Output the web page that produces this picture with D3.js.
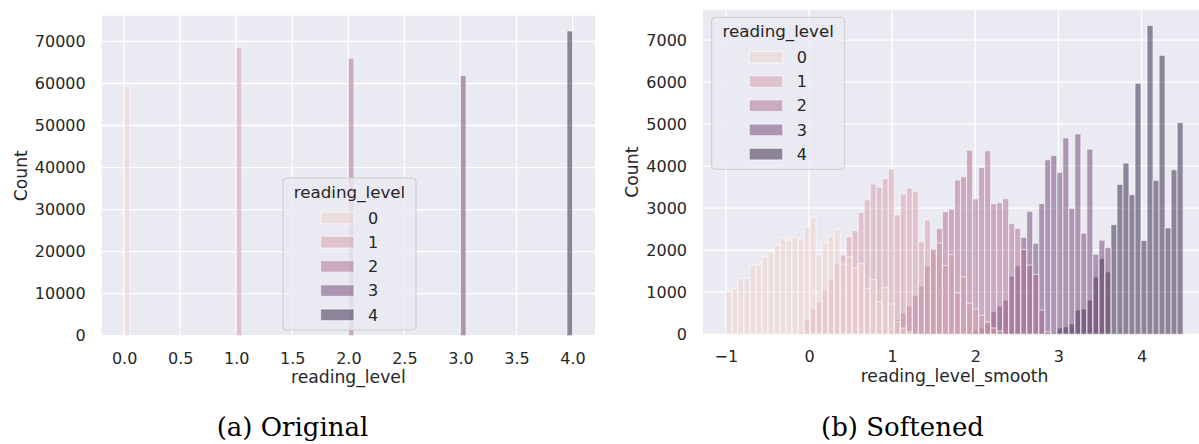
<!DOCTYPE html>
<html>
<head>
<meta charset="utf-8">
<script src="https://cdn.jsdelivr.net/npm/d3@7"></script>
<style>
  body { margin: 0; background: #fff; }
  text { font-family: "DejaVu Sans", sans-serif; fill: #262626; }
  .tick text { font-size: 16px; }
  .axisLabel { font-size: 17.2px; }
  .legTitle { font-size: 16.7px; }
  .legText { font-size: 16px; }
  .caption { font-family: "DejaVu Serif", serif; font-size: 26px; fill: #000; }
</style>
</head>
<body>
<div id="chart"></div>
<script>
// (a) original: one count per reading level
var levels = [0, 1, 2, 3, 4];
var levelCounts = [59300, 68600, 66000, 61900, 72500];
var levelTicks = [0, 0.5, 1, 1.5, 2, 2.5, 3, 3.5, 4];
var countTicksA = [0, 10000, 20000, 30000, 40000, 50000, 60000, 70000];

// (b) softened: 76 bins between -1 and 4.5, each level starts at a bin index
var smoothRange = [-1, 4.5];
var smoothBinCount = 76;
var softStart = [0, 12, 27, 40, 54];
var soft0 = [1030, 1080, 1330, 1330, 1645, 1650, 1840, 1975, 2115, 2290,
             2235, 2300, 2265, 2545, 2785, 1900, 2160, 2330, 2490, 1670,
             1843, 1582, 1685, 1092, 1300, 775, 1107, 720, 300, 150, 60];
var soft1 = [55, 364, 600, 775, 1060, 1305, 1685, 1890, 2318, 2468,
             2903, 3204, 3575, 3500, 3700, 3930, 2840, 3340, 3480, 3400,
             2200, 2720, 2040, 2175, 1637, 1898, 990, 1370, 740, 600,
             450, 300, 150, 80];
var soft2 = [50, 356, 514, 672, 918, 1147, 1629, 2010, 2520, 2920,
             2980, 3670, 3750, 4380, 3220, 3970, 4370, 3110, 3130, 3230,
             2640, 2520, 2017, 1645, 1424, 577, 60];
var soft3 = [40, 80, 142, 261, 538, 672, 815, 1384, 1630, 2310,
             2927, 2167, 3109, 4153, 4256, 3852, 4675, 2998, 4770, 2405,
             4406, 1906, 2238, 2065];
var soft4 = [25, 150, 180, 245, 577, 600, 815, 1368, 1803, 1487,
             2610, 3567, 4074, 3322, 5972, 2231, 7348, 3662, 6636, 2531,
             3915, 5038];
var smoothTicks = [-1, 0, 1, 2, 3, 4];
var countTicksB = [0, 1000, 2000, 3000, 4000, 5000, 6000, 7000];

// seaborn default cubehelix for numeric hue
var colors = ["#edd1cb", "#d499a7", "#aa678f", "#6e4071", "#2d1e3e"];

var width = 1199, height = 444;
var svg = d3.select("#chart").append("svg")
  .attr("width", width)
  .attr("height", height);

function drawPanel(p) {
  var g = svg.append("g");

  g.append("rect")
    .attr("x", p.left).attr("y", p.top)
    .attr("width", p.right - p.left).attr("height", p.bottom - p.top)
    .attr("fill", "#eaeaf2");

  g.selectAll(".gx").data(p.xTicks).enter().append("line")
    .attr("x1", function(d) { return p.x(d); })
    .attr("x2", function(d) { return p.x(d); })
    .attr("y1", p.top).attr("y2", p.bottom)
    .attr("stroke", "#fff").attr("stroke-width", 1.3);
  g.selectAll(".gy").data(p.yTicks).enter().append("line")
    .attr("x1", p.left).attr("x2", p.right)
    .attr("y1", function(d) { return p.y(d); })
    .attr("y2", function(d) { return p.y(d); })
    .attr("stroke", "#fff").attr("stroke-width", 1.3);

  // darkest level first so level 0 ends on top, like seaborn's layering
  for (var k = p.series.length - 1; k >= 0; k--) {
    g.append("g").selectAll("rect")
      .data(p.series[k].filter(function(d) { return d.n > 0; }))
      .enter().append("rect")
        .attr("x", function(d) { return p.x(d.x0); })
        .attr("width", function(d) { return p.x(d.x1) - p.x(d.x0); })
        .attr("y", function(d) { return p.y(d.n); })
        .attr("height", function(d) { return p.y(0) - p.y(d.n); })
        .attr("fill", colors[k]).attr("fill-opacity", 0.5)
        .attr("stroke", "#fff").attr("stroke-opacity", 0.55)
        .attr("stroke-width", 1.2);
  }

  var xAxis = g.append("g")
    .attr("transform", `translate(0,${p.bottom})`)
    .call(d3.axisBottom(p.x).tickValues(p.xTicks).tickFormat(p.xFormat)
      .tickSize(0).tickPadding(16.5));
  xAxis.select(".domain").remove();

  var yAxis = g.append("g")
    .attr("transform", `translate(${p.left},0)`)
    .call(d3.axisLeft(p.y).tickValues(p.yTicks).tickFormat(d3.format("d"))
      .tickSize(0).tickPadding(16));
  yAxis.select(".domain").remove();

  g.append("text")
    .attr("class", "axisLabel")
    .attr("x", (p.left + p.right) / 2)
    .attr("y", p.bottom + 47.5)
    .attr("text-anchor", "middle")
    .text(p.xLabel);

  g.append("text")
    .attr("class", "axisLabel")
    .attr("transform", "rotate(-90)")
    .attr("x", -(p.top + p.bottom) / 2)
    .attr("y", p.yLabelX)
    .attr("text-anchor", "middle")
    .text("Count");

  // legend
  var lg = g.append("g").attr("transform", `translate(${p.legX},${p.legY})`);
  lg.append("rect")
    .attr("width", 133).attr("height", 152)
    .attr("rx", 3.5)
    .attr("fill", "#eaeaf2").attr("fill-opacity", 0.8)
    .attr("stroke", "#cccccc").attr("stroke-width", 1);
  lg.append("text")
    .attr("class", "legTitle")
    .attr("x", 66.5).attr("y", 20)
    .attr("text-anchor", "middle")
    .text("reading_level");
  var item = lg.selectAll(".item").data(levels).enter().append("g")
    .attr("transform", function(d, i) { return `translate(0,${40 + i * 24.2})`; });
  item.append("rect")
    .attr("x", 37.6).attr("y", -5.8)
    .attr("width", 33.4).attr("height", 11.6)
    .attr("fill", function(d, i) { return colors[i]; }).attr("fill-opacity", 0.5)
    .attr("stroke", "#fff").attr("stroke-opacity", 0.55).attr("stroke-width", 1.2);
  item.append("text")
    .attr("class", "legText")
    .attr("x", 85).attr("y", 0).attr("dy", "0.36em")
    .text(function(d) { return d; });
}

// panel (a)
var binW = 0.05;
var seriesA = levels.map(function(v, i) {
  var x0 = Math.min(v, 4 - binW);
  return [{x0: x0, x1: x0 + binW, n: levelCounts[i]}];
});
var xA = d3.scaleLinear().domain([-0.2, 4.2]).range([101.7, 595]);
var yA = d3.scaleLinear().domain([0, d3.max(levelCounts) * 1.05]).range([335.7, 15.7]);
drawPanel({
  left: 101.7, right: 595, top: 15.7, bottom: 335.7,
  x: xA, y: yA, xTicks: levelTicks, yTicks: countTicksA,
  xFormat: d3.format(".1f"), xLabel: "reading_level", yLabelX: 26.8,
  series: seriesA, legX: 283, legY: 178
});

// panel (b)
var softCounts = [soft0, soft1, soft2, soft3, soft4];
var binWB = (smoothRange[1] - smoothRange[0]) / smoothBinCount;
var seriesB = softCounts.map(function(arr, k) {
  return arr.map(function(n, j) {
    var b = softStart[k] + j;
    return {x0: smoothRange[0] + b * binWB, x1: smoothRange[0] + (b + 1) * binWB, n: n};
  });
});
var maxB = d3.max(softCounts, function(a) { return d3.max(a); });
var xB = d3.scaleLinear().domain([-1.275, 4.775]).range([703, 1206]);
var yB = d3.scaleLinear().domain([0, maxB * 1.05]).range([334.3, 10]);
drawPanel({
  left: 703, right: 1206, top: 10, bottom: 334.3,
  x: xB, y: yB, xTicks: smoothTicks, yTicks: countTicksB,
  xFormat: d3.format("d"), xLabel: "reading_level_smooth", yLabelX: 637.5,
  series: seriesB, legX: 711.7, legY: 17.3
});

svg.append("text").attr("class", "caption")
  .attr("x", 292.5).attr("y", 436).attr("text-anchor", "middle")
  .text("(a) Original");
svg.append("text").attr("class", "caption")
  .attr("x", 902.5).attr("y", 436).attr("text-anchor", "middle")
  .text("(b) Softened");
</script>
</body>
</html>
